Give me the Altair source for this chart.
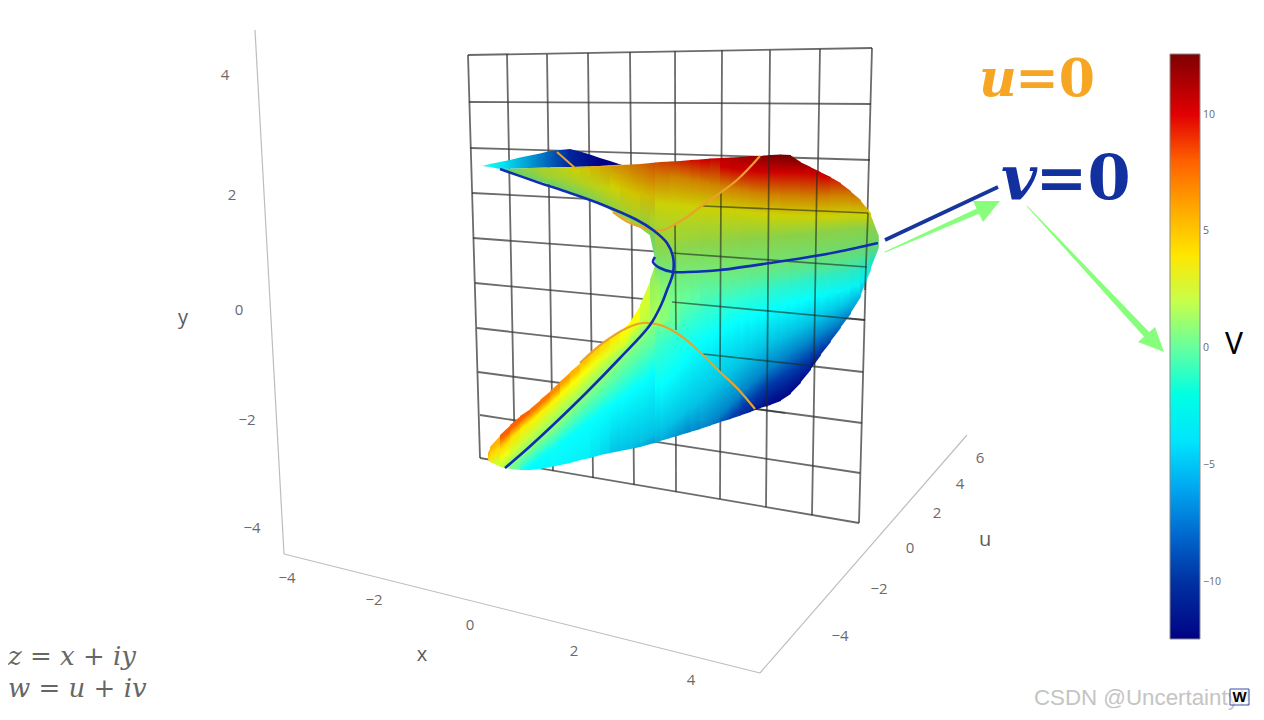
import altair as alt
import pandas as pd

# colour scale of the V colour bar
V_DOMAIN = [-12.45, -9.33, -3.09, 3.16, 9.4, 12.6]
V_RANGE = ["#000083", "#003caa", "#05ffff", "#ffff00", "#fa0000", "#800000"]
V_TICKS = [-10, -5, 0, 5, 10]

# wall grid: row ends and column ends
ROW_LEFT = [(468, 55), (469, 102), (470, 148), (472, 193), (473, 238), (475, 283), (477, 328), (478, 372), (480, 415), (480, 458)]
ROW_RIGHT = [(872, 48), (871, 104), (870, 160), (868, 213), (867, 267), (865, 320), (863, 372), (862, 423), (860, 473), (859, 523)]
COL_TOP = [(468, 55), (507, 54), (547, 54), (588, 53), (630, 52), (675, 51), (722, 50), (770, 50), (820, 49), (872, 48)]
COL_BOTTOM = [(480, 458), (515, 464), (553, 471), (593, 478), (634, 485), (676, 492), (720, 499), (766, 507), (812, 515), (859, 523)]
# grid pieces that lie in front of the surface (x0, y0, x1, y1)
GRID_FRONT = [
    (675, 225, 676, 330), (721, 192, 720, 372), (769, 155, 767, 407), (817, 172, 814, 365), (868, 213, 865, 290),
    (703, 206, 868, 213), (672, 253, 867, 267), (672, 302, 865, 320), (703, 354, 813, 366), (755, 409, 785, 413),
]

# surface, far wing: edges, then (x, V) readings along it
W_X = [482, 490, 500, 510, 520, 530, 540, 550, 560, 570, 580, 590, 600, 610, 622]
W_TOP = [166, 164, 162, 160, 157.5, 155.5, 153.5, 151, 150, 149, 151.5, 154.5, 158, 161, 165]
W_BOT = [166, 167, 169, 168.7, 168.4, 168, 167.8, 167.5, 167.2, 167, 166.7, 166.4, 166, 165.7, 165]
W_V = [(482, -2.5), (503, -4), (537, -7), (570, -10.5), (603, -12.5)]

# surface, near sheets: column edges x, top edge, bottom edge; then (y, V) readings per column
A_X = [500, 510, 520, 530, 540, 550, 560, 570, 580, 590, 600, 610, 620, 630, 640, 650, 655]
A_TOP = [169, 168.7, 168.4, 168, 167.8, 167.5, 167.2, 167, 166.7, 166.4, 166, 165.7, 165, 164.5, 164, 163, 162.5]
A_BOT = [169, 172, 175.5, 178.5, 181.5, 185, 188.5, 192, 195.5, 200, 204.5, 210, 216, 222, 228, 236, 263]
A_V = [
    [(169, -0.5), (172, -0.3)],
    [(168.5, 0.5), (175, 0.2)],
    [(168, 1.2), (176, 0.3)],
    [(168, 1.7), (179, 0.3)],
    [(168, 2), (176, 1.6), (182, 0.3)],
    [(168, 2.3), (178, 1.7), (185, 0.3)],
    [(168, 2.6), (180, 1.8), (189, 0.3)],
    [(168, 3), (182, 2), (192, 0.5)],
    [(167, 3.5), (184, 2.2), (196, 0.7)],
    [(167, 4), (186, 2.5), (200, 0.8)],
    [(167, 4.5), (188, 2.7), (205, 1)],
    [(166, 5), (188, 3.1), (210, 1.2)],
    [(165, 5.5), (190, 3.5), (216, 1.5)],
    [(165, 6), (195, 3.5), (222, 1.5)],
    [(164, 6.5), (195, 3.8), (228, 1.2)],
    [(163, 7), (195, 4), (220, 2), (236, 0.6), (263, -0.2)],
]
B_X = [488, 490, 500, 510, 520, 530, 540, 550, 560, 570, 580, 590, 600, 610, 620, 630, 640, 650, 655]
B_TOP = [453, 447, 435, 425, 416, 409, 400, 391, 381.5, 372, 363, 354, 346, 338, 332, 322, 305, 280, 263]
B_BOT = [460, 462, 467, 469, 470, 470, 469, 467, 465, 463, 460, 458, 455, 453, 451, 449, 447, 444, 443]
B_V = [
    [(453, 5), (460, 4)],
    [(445, 5), (452, 4), (465, 2)],
    [(435, 7), (445, 4), (455, 2.8), (468, 0.8)],
    [(425, 7), (435, 3.8), (450, 2), (462, 0), (469, -0.8)],
    [(416, 7), (426, 3.6), (440, 1.8), (453, 0), (470, -3.1)],
    [(409, 6.5), (418, 3.5), (432, 1.6), (445, 0), (462, -3.1), (470, -3.3)],
    [(400, 6.5), (409, 3.5), (423, 1.5), (436, 0), (455, -3.1), (469, -3.3)],
    [(391, 6), (400, 3.4), (415, 1.3), (428, 0), (447, -2.9), (467, -3.3)],
    [(381, 5.5), (390, 3.3), (405, 1.3), (418, 0), (440, -3.1), (465, -3.4)],
    [(372, 5), (381, 3.2), (396, 1.3), (408, 0), (433, -3.1), (463, -3.5)],
    [(363, 4.5), (372, 3), (386, 1.2), (398, 0), (425, -3.1), (460, -3.6)],
    [(354, 4.2), (363, 2.8), (376, 1.2), (388, 0), (418, -3.1), (458, -4)],
    [(346, 4), (356, 2.5), (366, 1.2), (378, 0), (410, -3.1), (455, -4.4)],
    [(338, 3.6), (350, 2.2), (357, 1.1), (368, 0), (403, -3.1), (453, -5)],
    [(332, 3.2), (345, 1.9), (347, 1.1), (357, 0), (396, -3.1), (449, -5), (451, -5.1)],
    [(322, 3), (330, 2), (336, 1), (347, 0), (388, -3.1), (443, -5), (449, -5.5)],
    [(305, 2), (323, 1.5), (326, 0.8), (336, 0), (381, -3.1), (438, -5), (447, -5.8)],
    [(280, 0.8), (323, 1), (326, 0.2), (345, -1), (373, -3.1), (433, -5), (444, -6.2)],
]
C_X = [655, 660, 670, 680, 690, 700, 710, 720, 730, 740, 750, 760, 770, 780, 790, 800, 810, 820, 830, 840, 850, 860, 870, 878]
C_TOP = [162.5, 162, 161.5, 161, 160, 159.5, 158.5, 158, 157.5, 157, 156, 156, 155, 154.5, 155, 162, 167, 172, 177, 183, 191, 200, 213, 236]
C_BOT = [443, 441, 438, 435, 432, 429, 425.5, 422, 419, 415.5, 412, 408, 405, 401, 394, 383, 370, 355.5, 342, 328, 314, 297, 270, 248]
C_SPLITS = [235, 295]
C_V = [
    [(162, 7.2), (177, 5.5), (203, 3), (245, 1), (265, 0), (285, 0.8), (310, 1), (325, 0.8), (327, -0.8), (347, -1.8), (385, -3.1), (430, -5), (443, -5.8)],
    [(162, 7.5), (178, 5.5), (204, 3), (247, 1), (268, 0), (290, 0.3), (320, 0.2), (326, -0.8), (345, -2), (382, -3.1), (427, -5), (441, -6)],
    [(161, 8), (177, 5.5), (205, 3), (247, 1), (272, 0), (300, -0.3), (325, -0.8), (335, -2), (372, -3.1), (420, -5), (438, -6.5)],
    [(161, 8.5), (179, 5.5), (206, 3), (246, 1), (272, 0), (300, -0.7), (328, -2), (360, -3.1), (412, -5), (435, -7)],
    [(160, 9), (181, 5.5), (207, 3), (245, 1), (272, 0), (300, -1), (320, -2), (348, -3.1), (404, -5), (432, -7)],
    [(160, 9.4), (183, 5.5), (208, 3), (243, 1), (271, 0), (292, -1), (313, -2), (340, -3.1), (396, -5), (429, -7)],
    [(158, 9.6), (185, 5.5), (209, 3), (243, 1), (271, 0), (290, -1), (308, -2), (334, -3.1), (387, -5), (420, -7), (436, -9.4)],
    [(158, 9.9), (167, 9.4), (187, 5.5), (210, 3), (242, 1), (270, 0), (288, -1), (304, -2), (329, -3.1), (378, -5), (410, -7), (425, -9.4)],
    [(157, 10.3), (169, 9.4), (189, 5.5), (211, 3), (241, 1), (269, 0), (286, -1), (300, -2), (323, -3.1), (369, -5), (400, -7), (415, -9.4)],
    [(157, 10.6), (170, 9.4), (191, 5.5), (212, 3), (240, 1), (267, 0), (283, -1), (297, -2), (319, -3.1), (361, -5), (389, -7), (405, -9.4), (425, -11.5)],
    [(156, 11), (171, 9.4), (193, 5.5), (213, 3), (239, 1), (266, 0), (281, -1), (294, -2), (316, -3.1), (353, -5), (380, -7), (397, -9.4), (412, -11.5)],
    [(156, 11.5), (172, 9.4), (194, 5.5), (214, 3), (238, 1), (264.5, 0), (279, -1), (291, -2), (312, -3.1), (346, -5), (371, -7), (388, -9.4), (405, -11.5)],
    [(155, 12), (172, 9.4), (195, 5.5), (215, 3), (237, 1), (263, 0), (277, -1), (288, -2), (309, -3.1), (340, -5), (364, -7), (381, -9.4), (398, -11.5), (410, -12.5)],
    [(155, 12.3), (172, 9.4), (196, 5.5), (216, 3), (236, 1), (261, 0), (275, -1), (285, -2), (306, -3.1), (335, -5), (357, -7), (375, -9.4), (392, -11.5), (402, -12.5)],
    [(155, 12.5), (172, 9.4), (196, 5.5), (216, 3), (235, 1), (260, 0), (273, -1), (283, -2), (303, -3.1), (330, -5), (350, -7), (369, -9.4), (385, -11.5), (395, -12.5)],
    [(162, 11.5), (173, 9.4), (197, 5.5), (216, 3), (235, 1), (258, 0), (271, -1), (281, -2), (300, -3.1), (325, -5), (344, -7), (362, -9.4), (376, -11.5), (385, -12.5)],
    [(167, 10.5), (174, 9.4), (197, 5.5), (216, 3), (234, 1), (256, 0), (269, -1), (279, -2), (297, -3.1), (320, -5), (337, -7), (354, -9.4), (365, -11.5), (375, -12.5)],
    [(172, 9.7), (176, 9.4), (197, 5.5), (216, 3), (232, 1), (255, 0), (268, -1), (277, -2), (295, -3.1), (315, -5), (331, -7), (347, -9.4), (358, -11.5)],
    [(177, 8.8), (196, 5.5), (216, 3), (231, 1), (253, 0), (266, -1), (275, -2), (292, -3.1), (310, -5), (325, -7), (340, -9.4)],
    [(183, 7.8), (196, 5.5), (215, 3), (230, 1), (251, 0), (265, -1), (273, -2), (290, -3.1), (305, -5), (318, -7), (328, -8.5)],
    [(191, 6.5), (198, 5.5), (215, 3), (229, 1), (249, 0), (262, -1), (270, -2), (286, -3.1), (298, -5), (314, -7)],
    [(200, 5.3), (215, 3), (228, 1), (247, 0), (258, -1), (265, -2), (280, -3.1), (292, -5)],
    [(213, 3.3), (227, 1), (245, 0), (252, -1), (258, -2), (270, -3.1)],
]

# level curves on the surface
V0_MAIN = [(500, 169), (537, 182), (570, 193), (603, 205), (637, 220), (653, 230), (667, 243), (673, 257), (673, 273), (667, 290), (662, 303), (650, 325), (620, 358), (587, 392), (553, 425), (527, 449), (505, 468)]
V0_BRANCH = [(878, 243), (837, 252), (803, 258), (770, 263), (720, 270), (687, 272), (673, 272), (660, 268), (653, 262), (655, 257)]
U0_UPPER = [(760, 156), (737, 180), (703, 205), (687, 217), (670, 227), (663, 230), (650, 229), (630, 223), (613, 212)]
U0_WING = [(557, 152), (575, 168)]
U0_LOWER = [(580, 363), (603, 343), (627, 328), (643, 323), (660, 325), (675, 332), (690, 343), (703, 355), (720, 372), (737, 388), (755, 409)]
U0_FOLD = [(575, 168), (622, 165)]

# 3D box edges
AXIS_LINES = [(255, 30, 284, 554), (284, 554, 760, 673), (760, 673, 967, 435)]
Y_TICKS = [("4", 225, 75), ("2", 232, 195), ("0", 239, 310), ("−2", 247, 420), ("−4", 252, 528)]
X_TICKS = [("−4", 287, 578), ("−2", 374, 600), ("0", 470, 625), ("2", 574, 651), ("4", 691, 680)]
U_TICKS = [("−4", 840, 636), ("−2", 879, 589), ("0", 910, 548), ("2", 937, 513), ("4", 960, 484), ("6", 980, 458)]
AXIS_TITLES = [("y", 183, 318), ("x", 422, 655), ("u", 985, 540)]

xs = alt.Scale(domain=[8, 1256], nice=False, zero=False)
ys = alt.Scale(domain=[712, 8], nice=False, zero=False)
X = alt.X("x:Q", scale=xs, axis=None)
Y = alt.Y("y:Q", scale=ys, axis=None)


def hex_of(v, y=400):
    """Look a V value up in the colour scale; the upper part of the surface reads darker."""
    v = max(V_DOMAIN[0], min(V_DOMAIN[-1], v))
    k = 1.0
    if y < 300:
        k = 0.82 if y <= 240 else 0.82 + 0.18 * (y - 240) / 60
    for i in range(len(V_DOMAIN) - 1):
        if v <= V_DOMAIN[i + 1]:
            t = (v - V_DOMAIN[i]) / (V_DOMAIN[i + 1] - V_DOMAIN[i])
            a, b = V_RANGE[i], V_RANGE[i + 1]
            rgb = [round(k * (int(a[c:c + 2], 16) * (1 - t) + int(b[c:c + 2], 16) * t)) for c in (1, 3, 5)]
            return "#%02x%02x%02x" % tuple(rgb)
    return V_RANGE[-1]


def area_of(df, grad):
    return alt.Chart(df).mark_area(color=grad).encode(x=X, y=alt.Y("t:Q", scale=ys, axis=None), y2="b:Q")


def strip(x0, x1, t0, t1, b0, b1, stops, slope=0.0):
    """One column; the gradient is tilted so that its bands follow the surface's contour slope."""
    top, bot = min(t0, t1), max(b0, b1)
    H = max(bot - top, 1.0)
    W = x1 + 0.8 - x0
    m = 0.3
    gy = 1 + 2 * m
    gx = -slope * W / H * gy
    L2 = gx * gx + gy * gy
    ux = 0.5 * (x1 - x0) / W

    def off(y):
        return max(0.0, min(1.0, (ux * gx + ((y - top) / H + m) * gy) / L2))

    gs = [alt.GradientStop(offset=off(y), color=hex_of(v, y)) for y, v in stops]
    df = pd.DataFrame({"x": [x0, x1 + 0.8], "t": [t0, t1], "b": [b0, b1]})
    return area_of(df, alt.Gradient(gradient="linear", stops=gs, x1=0, y1=-m, x2=gx, y2=1 + m))


def sheet(xv, top, bot, vals, slope):
    return [strip(xv[i], xv[i + 1], top[i], top[i + 1], bot[i], bot[i + 1], vals[i], slope) for i in range(len(vals))]


def sheet_c():
    out = []
    for i in range(len(C_V)):
        x0, x1 = C_X[i], C_X[i + 1]
        t0, t1, b0, b1 = C_TOP[i], C_TOP[i + 1], C_BOT[i], C_BOT[i + 1]
        low = -0.9 if x0 < 720 else (-0.85 if x0 < 770 else -0.6)
        slopes = [0.1 if x0 < 760 else 0.0, -0.15, low]
        edges0 = [t0] + [max(t0, min(s, b0)) for s in C_SPLITS] + [b0]
        edges1 = [t1] + [max(t1, min(s, b1)) for s in C_SPLITS] + [b1]
        for k in range(3):
            if edges0[k + 1] > edges0[k] or edges1[k + 1] > edges1[k]:
                lift = 0.5 if k else 0.0
                out.append(strip(x0, x1, edges0[k] - lift, edges1[k] - lift, edges0[k + 1], edges1[k + 1], C_V[i], slopes[k]))
    return out


def wing():
    lo, hi = W_X[0], W_X[-1]
    gs = [alt.GradientStop(offset=(x - lo) / (hi - lo), color=hex_of(v)) for x, v in W_V]
    df = pd.DataFrame({"x": W_X, "t": W_TOP, "b": W_BOT})
    return area_of(df, alt.Gradient(gradient="linear", stops=gs, x1=0, y1=0, x2=1, y2=0))


def segments(rows, **kw):
    df = pd.DataFrame(rows, columns=["x", "y", "x2", "y2"])
    return alt.Chart(df).mark_rule(**kw).encode(x=X, y=Y, x2="x2:Q", y2="y2:Q")


def curve(pts, **kw):
    df = pd.DataFrame(pts, columns=["x", "y"]).reset_index()
    return alt.Chart(df).mark_line(interpolate="catmull-rom", **kw).encode(x=X, y=Y, order="index:Q")


def labels(rows, **kw):
    df = pd.DataFrame(rows, columns=["t", "x", "y"])
    return alt.Chart(df).mark_text(**kw).encode(x=X, y=Y, text="t:N")


grid_rows = [(a[0], a[1], b[0], b[1]) for a, b in zip(ROW_LEFT, ROW_RIGHT)]
grid_cols = [(a[0], a[1], b[0], b[1]) for a, b in zip(COL_TOP, COL_BOTTOM)]

layers = [
    segments(AXIS_LINES, color="#bdbdbd", strokeWidth=1.2),
    segments(grid_rows + grid_cols, color="#3a3a3a", strokeWidth=1.8, opacity=0.75),
    wing(),
]
layers += sheet(A_X, A_TOP, A_BOT, A_V, 0.5)
layers += sheet(B_X, B_TOP, B_BOT, B_V, -0.85)
layers += sheet_c()
layers.append(segments(GRID_FRONT, color="#1f2a1f", strokeWidth=1.7, opacity=0.6))

ORANGE = "#e8a32a"
BLUE = "#0f2fb0"
layers += [
    curve(U0_FOLD, color=ORANGE, strokeWidth=1.2),
    curve(U0_WING, color=ORANGE, strokeWidth=2),
    curve(U0_UPPER, color=ORANGE, strokeWidth=2.2),
    curve(U0_LOWER, color=ORANGE, strokeWidth=2.2),
    curve(V0_MAIN, color=BLUE, strokeWidth=2.6),
    curve(V0_BRANCH, color=BLUE, strokeWidth=2.6),
]

# annotation arrows
GREEN = "#88ff7c"
layers.append(segments([(885, 240, 998, 187)], color="#17369c", strokeWidth=3.6))
for tail in (
    pd.DataFrame({"x": [885, 985], "y": [252, 208], "w": [1, 6]}),
    pd.DataFrame({"x": [1027, 1150], "y": [206, 338], "w": [1, 7]}),
):
    layers.append(alt.Chart(tail).mark_trail(color=GREEN).encode(
        x=X, y=Y, size=alt.Size("w:Q", scale=None, legend=None)))
for head in (
    pd.DataFrame({"x": [973, 983, 1000], "t": [201, 201, 201], "b": [201, 222, 201]}),
    pd.DataFrame({"x": [1138, 1155, 1164], "t": [342, 327, 352], "b": [342, 348.5, 352]}),
):
    layers.append(alt.Chart(head).mark_area(color=GREEN).encode(
        x=X, y=alt.Y("t:Q", scale=ys, axis=None), y2="b:Q"))

# tick labels and titles
TICK = dict(font="Open Sans", fontSize=15, color="#6a6a6a", align="center", baseline="middle")
layers += [
    labels(Y_TICKS, **TICK), labels(X_TICKS, **TICK), labels(U_TICKS, **TICK),
    labels(AXIS_TITLES, font="Open Sans", fontSize=20, color="#5a5a5a", align="center", baseline="middle"),
    labels([("u", 998, 80)], font="DejaVu Serif", fontSize=52, fontStyle="italic", fontWeight="bold", color="#f6a623", align="center", baseline="middle"),
    labels([("=0", 1055, 80)], font="DejaVu Serif", fontSize=52, fontWeight="bold", color="#f6a623", align="center", baseline="middle"),
    labels([("v", 1019, 180)], font="DejaVu Serif", fontSize=62, fontStyle="italic", fontWeight="bold", color="#12309e", align="center", baseline="middle"),
    labels([("=0", 1083, 180)], font="DejaVu Serif", fontSize=62, fontWeight="bold", color="#12309e", align="center", baseline="middle"),
    labels([("V", 1234, 345)], font="Noto Sans", fontSize=30, color="#000000", align="center", baseline="middle"),
    labels([("z = x + iy", 8, 657), ("w = u + iv", 8, 689)], font="DejaVu Serif", fontSize=26, fontStyle="italic", color="#666666", align="left", baseline="middle"),
    labels([("CSDN @Uncertainty!!", 1034, 698)], font="Liberation Sans", fontSize=22.3, color="#c4c4c4", align="left", baseline="middle"),
]
layers.append(alt.Chart(pd.DataFrame({"x": [1230], "x2": [1249], "y": [689], "y2": [705]})).mark_rect(
    fill="#ffffff", fillOpacity=0.55, stroke="#3b4ea8", strokeWidth=1).encode(x=X, x2="x2:Q", y=Y, y2="y2:Q"))
layers.append(labels([("W", 1239.5, 697)], font="Liberation Sans", fontSize=15, fontWeight="bold", color="#000000", align="center", baseline="middle"))

# colour bar
layers.append(alt.Chart(pd.DataFrame({"v": V_DOMAIN})).mark_point(opacity=0).encode(
    x=alt.value(0), y=alt.value(0),
    color=alt.Color("v:Q", scale=alt.Scale(domain=V_DOMAIN, range=V_RANGE), legend=alt.Legend(
        orient="none", legendX=1162, legendY=46, title=None, values=V_TICKS, format="d",
        gradientLength=585, gradientThickness=30, gradientStrokeColor="#8a8a8a", gradientStrokeWidth=1,
        labelFont="Open Sans", labelFontSize=10.5, labelColor="#6a6a6a", labelOffset=3, padding=0,
        direction="vertical",
    ))))

chart = alt.layer(*layers).resolve_scale(color="independent").properties(
    width=1248, height=704, autosize="none", padding=0, background="#ffffff"
).configure_view(stroke=None)

chart.save("out.html", embed_options={"renderer": "svg", "actions": False})
